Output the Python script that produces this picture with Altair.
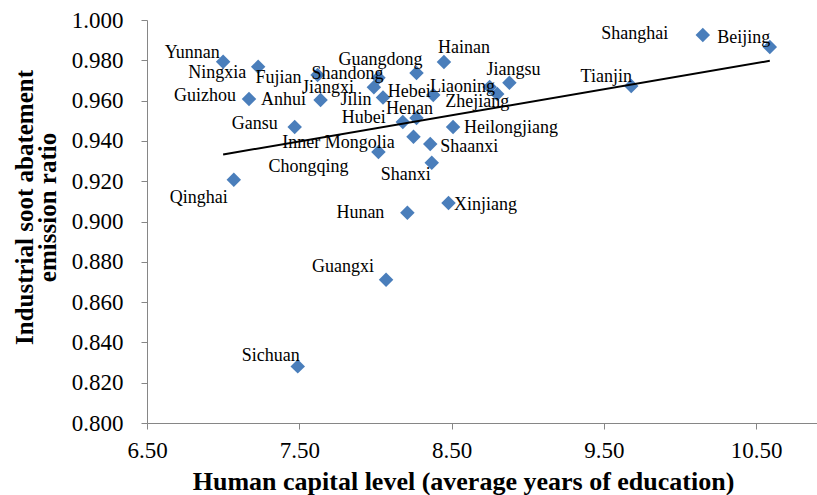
import altair as alt
import pandas as pd

provinces = ["Yunnan", "Ningxia", "Fujian", "Shandong", "Guangdong", "Hainan", "Jiangsu",
             "Shanghai", "Beijing", "Tianjin", "Guizhou", "Anhui", "Jiangxi", "Jilin", "Hebei",
             "Liaoning", "Zhejiang", "Henan", "Hubei", "Gansu", "Heilongjiang", "Inner Mongolia",
             "Shaanxi", "Chongqing", "Shanxi", "Qinghai", "Xinjiang", "Hunan", "Guangxi", "Sichuan"]
human_capital = [7.00, 7.23, 7.62, 8.02, 8.27, 8.45, 8.88,
                 10.15, 10.59, 9.68, 7.17, 7.64, 7.99, 8.05, 8.38,
                 8.75, 8.80, 8.27, 8.18, 7.47, 8.51, 8.25,
                 8.36, 8.02, 8.37, 7.07, 8.48, 8.21, 8.07, 7.49]
soot_ratio = [0.9793, 0.9768, 0.9727, 0.9714, 0.9737, 0.9792, 0.9688,
              0.9926, 0.9866, 0.9673, 0.9608, 0.9603, 0.9666, 0.9615, 0.9628,
              0.9668, 0.9633, 0.9514, 0.9494, 0.9469, 0.9469, 0.9420,
              0.9385, 0.9345, 0.9291, 0.9207, 0.9092, 0.9043, 0.8711, 0.8281]
# label offsets from each point, in pixels
label_dx = [-31, -41, -39, -31, -36, 20, 4, -68, -26, -25, -44, -37, -46, -27, -24,
            -27, -20, -7, -39, -40, 58, -75, 39, -70, -26, -35, 37, -47, -43, -27]
label_dy = [-9, 6, 3, -4, -13, -14, -13, -1, -9, -9, -3, 0, 1, 2, -3,
            0, 8, -9, -4, -3, 1, 6, 3, 15, 12, 18, 2, 0, -13, -10]

x_ticks = [6.5, 7.5, 8.5, 9.5, 10.5]
y_ticks = [0.80, 0.82, 0.84, 0.86, 0.88, 0.90, 0.92, 0.94, 0.96, 0.98, 1.00]

X_DOMAIN = [6.5, 10.9]
Y_DOMAIN = [0.8, 1.0]
W, H = 670, 403
px_x = W / (X_DOMAIN[1] - X_DOMAIN[0])
px_y = H / (Y_DOMAIN[1] - Y_DOMAIN[0])

df = pd.DataFrame({"province": provinces, "x": human_capital, "y": soot_ratio,
                   "dx": label_dx, "dy": label_dy})
df["lx"] = df["x"] + df["dx"] / px_x
df["ly"] = df["y"] - df["dy"] / px_y

FONT = "Liberation Serif"
AXIS_COLOR = "#868686"

xscale = alt.Scale(domain=X_DOMAIN, nice=False, zero=False)
yscale = alt.Scale(domain=Y_DOMAIN, nice=False, zero=False)

xaxis = alt.Axis(values=x_ticks, format=".2f", grid=False, domainColor=AXIS_COLOR,
                 tickColor=AXIS_COLOR, tickSize=6, labelFont=FONT, labelFontSize=23,
                 labelColor="black", labelPadding=10, labelFlush=False,
                 title="Human capital level (average years of education)",
                 titleFont=FONT, titleFontSize=26, titleFontWeight="bold", titleColor="black",
                 titleX=316, titleY=58, titleAnchor="middle", titleAlign="center",
                 titleBaseline="middle")
yaxis = alt.Axis(values=y_ticks, format=".3f", grid=False, domainColor=AXIS_COLOR,
                 tickColor=AXIS_COLOR, tickSize=6, labelFont=FONT, labelFontSize=23,
                 labelColor="black", labelPadding=18, labelFlush=False,
                 title=["Industrial soot abatement", "emission ratio"],
                 titleFont=FONT, titleFontSize=25, titleFontWeight="bold", titleColor="black",
                 titleLineHeight=23, titleAngle=-90, titleX=-123, titleY=187,
                 titleAlign="center", titleBaseline="middle")

base = alt.Chart(df)

points = base.mark_point(shape="diamond", filled=True, size=210, color="#4a7ebb",
                         opacity=1).encode(
    x=alt.X("x:Q", scale=xscale, axis=xaxis),
    y=alt.Y("y:Q", scale=yscale, axis=yaxis),
)

trend = base.transform_regression("x", "y").mark_line(color="black", strokeWidth=2).encode(
    x=alt.X("x:Q", scale=xscale),
    y=alt.Y("y:Q", scale=yscale),
)

labels = base.mark_text(font=FONT, fontSize=18, color="black", align="center",
                        baseline="middle").encode(
    x=alt.X("lx:Q", scale=xscale),
    y=alt.Y("ly:Q", scale=yscale),
    text="province:N",
)

chart = alt.layer(points, trend, labels).properties(
    width=W, height=H,
    autosize=alt.AutoSizeParams(type="none"),
    padding={"left": 147, "top": 20, "right": 0, "bottom": 72},
    background="white",
).configure_view(stroke=None)

chart.save("out.html", embed_options={"renderer": "svg", "actions": False})
